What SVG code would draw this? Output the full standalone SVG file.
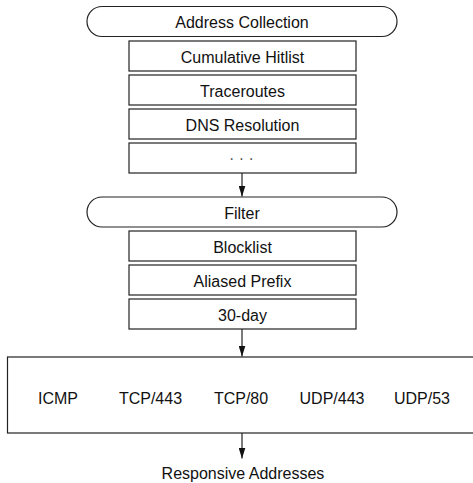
<svg xmlns="http://www.w3.org/2000/svg" width="473" height="483" viewBox="0 0 473 483">
<style>
.s{fill:#fff;stroke:#222;stroke-width:1.2}
.t{font-family:"Liberation Sans",Arial,sans-serif;font-size:16px;fill:#111;text-anchor:middle}
.d{fill:#555}
.c{stroke:#222;stroke-width:1.2;fill:none}
</style>
<defs>
<marker id="ah" markerWidth="11" markerHeight="7" refX="11" refY="3.5" orient="auto" markerUnits="userSpaceOnUse">
<path d="M0,0 L11,3.5 L0,7 Z" fill="#111"/>
</marker>
</defs>
<rect width="473" height="483" fill="#fff"/>
<g id="address-collection"><rect class="s" x="87" y="6.5" width="310" height="30" rx="15"/><text class="t" x="242" y="28">Address Collection</text></g>
<g id="cumulative-hitlist"><rect class="s" x="129" y="41" width="227" height="30"/><text class="t" x="242.5" y="62.5">Cumulative Hitlist</text></g>
<g id="traceroutes"><rect class="s" x="129" y="75" width="227" height="30"/><text class="t" x="242.5" y="96.5">Traceroutes</text></g>
<g id="dns-resolution"><rect class="s" x="129" y="109" width="227" height="30"/><text class="t" x="242.5" y="130.5">DNS Resolution</text></g>
<g id="more"><rect class="s" x="129" y="143" width="227" height="30"/><text class="t d" x="241.5" y="164">· · ·</text></g>
<g id="filter"><rect class="s" x="87" y="197" width="310" height="30" rx="15"/><text class="t" x="242" y="218.5">Filter</text></g>
<g id="blocklist"><rect class="s" x="129" y="231" width="227" height="30"/><text class="t" x="242.5" y="252.5">Blocklist</text></g>
<g id="aliased-prefix"><rect class="s" x="129" y="265" width="227" height="30"/><text class="t" x="242.5" y="286.5">Aliased Prefix</text></g>
<g id="thirty-day"><rect class="s" x="129" y="299" width="227" height="30"/><text class="t" x="242.5" y="320.5">30-day</text></g>
<g id="probes"><rect class="s" x="7.5" y="357" width="470" height="76"/>
<text class="t" x="58" y="404">ICMP</text>
<text class="t" x="150.5" y="404">TCP/443</text>
<text class="t" x="241" y="404">TCP/80</text>
<text class="t" x="332" y="404">UDP/443</text>
<text class="t" x="422" y="404">UDP/53</text></g>
<g id="responsive-addresses"><text class="t" x="243" y="479">Responsive Addresses</text></g>
<g id="connectors">
<line class="c" x1="242" y1="173" x2="242" y2="196.5" marker-end="url(#ah)"/>
<line class="c" x1="242" y1="329" x2="242" y2="356.5" marker-end="url(#ah)"/>
<line class="c" x1="242" y1="433" x2="242" y2="458.5" marker-end="url(#ah)"/>
</g>
</svg>
